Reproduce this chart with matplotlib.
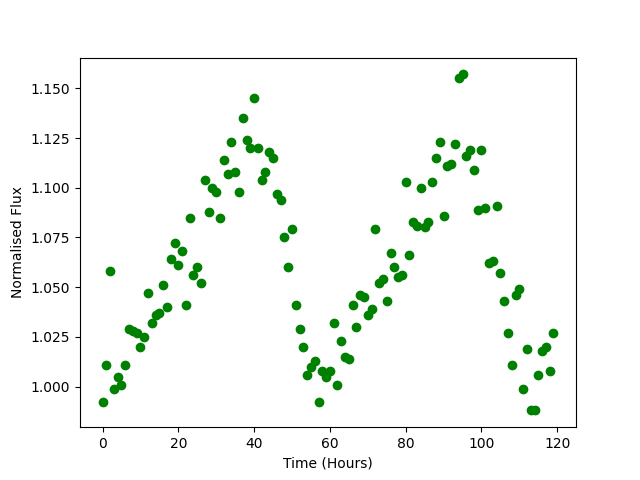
import numpy as np
import matplotlib
matplotlib.use("Agg")
import matplotlib.pyplot as plt

hours = np.arange(120)
flux = [0.992, 1.011, 1.058, 0.999, 1.005, 1.001, 1.011, 1.029, 1.028, 1.027,
        1.020, 1.025, 1.047, 1.032, 1.036, 1.037, 1.051, 1.040, 1.064, 1.072,
        1.061, 1.068, 1.041, 1.085, 1.056, 1.060, 1.052, 1.104, 1.088, 1.100,
        1.098, 1.085, 1.114, 1.107, 1.123, 1.108, 1.098, 1.135, 1.124, 1.120,
        1.145, 1.120, 1.104, 1.108, 1.118, 1.115, 1.097, 1.094, 1.075, 1.060,
        1.079, 1.041, 1.029, 1.020, 1.006, 1.010, 1.013, 0.992, 1.008, 1.005,
        1.008, 1.032, 1.001, 1.023, 1.015, 1.014, 1.041, 1.030, 1.046, 1.045,
        1.036, 1.039, 1.079, 1.052, 1.054, 1.043, 1.067, 1.060, 1.055, 1.056,
        1.103, 1.066, 1.083, 1.081, 1.100, 1.080, 1.083, 1.103, 1.115, 1.123,
        1.086, 1.111, 1.112, 1.122, 1.155, 1.157, 1.116, 1.119, 1.109, 1.089,
        1.119, 1.090, 1.062, 1.063, 1.091, 1.057, 1.043, 1.027, 1.011, 1.046,
        1.049, 0.999, 1.019, 0.988, 0.988, 1.006, 1.018, 1.020, 1.008, 1.027]

plt.figure(figsize=(6.4, 4.8), dpi=100)
plt.plot(hours, flux, 'go')
plt.xlabel("Time (Hours)")
plt.ylabel("Normalised Flux")
plt.savefig("out.png")
